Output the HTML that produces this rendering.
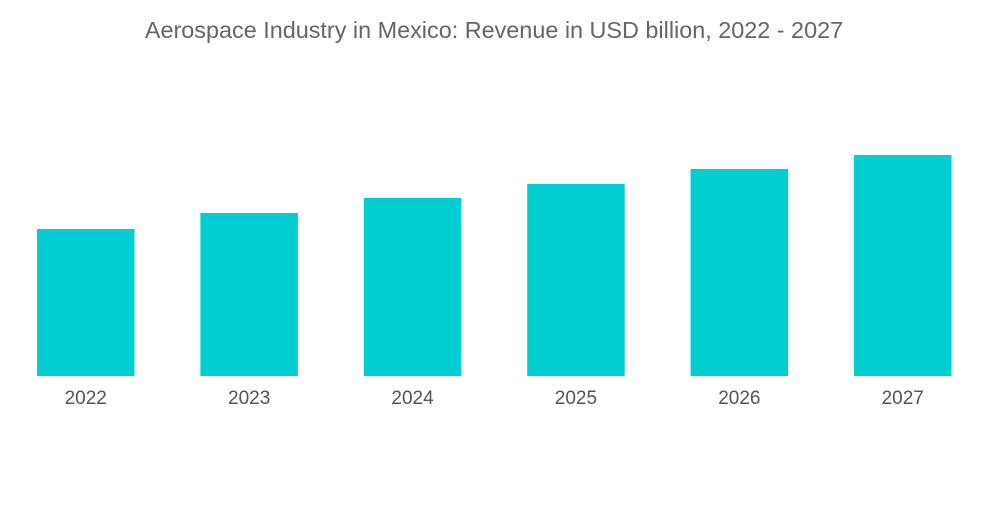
<!DOCTYPE html>
<html>
<head>
<meta charset="utf-8">
<style>
  html,body{margin:0;padding:0;background:#fff;}
  body{width:1000px;height:504px;overflow:hidden;font-family:"Liberation Sans",sans-serif;}
</style>
</head>
<body>
<svg id="chart" width="1000" height="504" viewBox="0 0 1000 504">
  <text x="494" y="38" text-anchor="middle" font-size="23.4" fill="#666" font-family="Liberation Sans, sans-serif">Aerospace Industry in Mexico: Revenue in USD billion, 2022 - 2027</text>
  <g id="bars"></g>
  <g id="xlabels"></g>
</svg>
<script>
const categories = ["2022","2023","2024","2025","2026","2027"];
const values = [14.7, 16.3, 17.8, 19.2, 20.7, 22.1];

const ns = "http://www.w3.org/2000/svg";
const baseY = 376, pxPerUnit = 10;
const firstX = 37, step = 163.4, barW = 97.5;
function xPos(i){ return firstX + i * step; }
function yPos(v){ return baseY - v * pxPerUnit; }

const bars = document.getElementById('bars');
const labels = document.getElementById('xlabels');
categories.forEach((c, i) => {
  const r = document.createElementNS(ns, 'rect');
  r.setAttribute('x', xPos(i));
  r.setAttribute('y', yPos(values[i]));
  r.setAttribute('width', barW);
  r.setAttribute('height', baseY - yPos(values[i]));
  r.setAttribute('fill', '#00CED1');
  
  
  bars.appendChild(r);
  const t = document.createElementNS(ns, 'text');
  t.setAttribute('x', xPos(i) + barW / 2);
  t.setAttribute('y', 404);
  t.setAttribute('text-anchor', 'middle');
  t.setAttribute('font-size', '19');
  t.setAttribute('fill', '#555');
  t.textContent = c;
  
  
  labels.appendChild(t);
});
</script>
</body>
</html>
